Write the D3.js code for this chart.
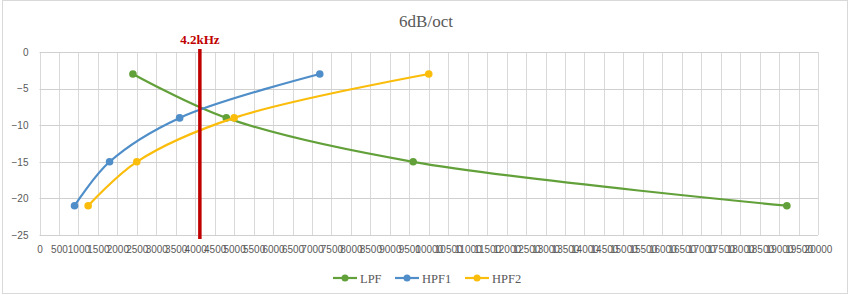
<!DOCTYPE html>
<html>
<head>
<meta charset="utf-8">
<script src="https://cdn.jsdelivr.net/npm/d3@7"></script>
<style>
  body { margin: 0; background: #fff; }
  svg { display: block; }
  .tick text { fill: #595959; font-family: "Liberation Sans", Arial, sans-serif; font-size: 10px; }
</style>
</head>
<body>
<svg width="850" height="295"></svg>
<script>
// data
const title = "6dB/oct";
const markerLabel = "4.2kHz";
const markerFreq = 4120;

const lpfFreq = [2400, 4800, 9600, 19200];
const lpfGain = [-3, -9, -15, -21];
const hpf1Freq = [900, 1800, 3600, 7200];
const hpf1Gain = [-21, -15, -9, -3];
const hpf2Freq = [1250, 2500, 5000, 10000];
const hpf2Gain = [-21, -15, -9, -3];

const seriesNames = ["LPF", "HPF1", "HPF2"];
const seriesColors = ["#62a03a", "#4f8ec8", "#fbbd0b"];

const xTicks = d3.range(0, 20001, 500);
const yTicks = [0, -5, -10, -15, -20, -25];

const series = [
  { name: seriesNames[0], color: seriesColors[0], pts: lpfFreq.map((f, i) => [f, lpfGain[i]]) },
  { name: seriesNames[1], color: seriesColors[1], pts: hpf1Freq.map((f, i) => [f, hpf1Gain[i]]) },
  { name: seriesNames[2], color: seriesColors[2], pts: hpf2Freq.map((f, i) => [f, hpf2Gain[i]]) }
];

const svg = d3.select("svg");

// outer chart border
svg.append("rect")
  .attr("x", 2.5).attr("y", 0.5)
  .attr("width", 845).attr("height", 293)
  .attr("fill", "#fff")
  .attr("stroke", "#d9d9d9");

const x = d3.scaleLinear().domain([0, 20000]).range([39.5, 818]);
const y = d3.scaleLinear().domain([-25, 0]).range([235, 52]);

// gridlines
svg.append("g")
  .selectAll("line")
  .data(xTicks)
  .enter().append("line")
    .attr("x1", d => Math.round(x(d)) + 0.5)
    .attr("x2", d => Math.round(x(d)) + 0.5)
    .attr("y1", y(0)).attr("y2", y(-25))
    .attr("stroke", "#d9d9d9");

svg.append("g")
  .selectAll("line")
  .data(yTicks)
  .enter().append("line")
    .attr("x1", x(0)).attr("x2", x(20000))
    .attr("y1", d => Math.round(y(d)) + 0.5)
    .attr("y2", d => Math.round(y(d)) + 0.5)
    .attr("stroke", "#d0d0d0");

// axes (labels only)
const xAxis = svg.append("g")
  .attr("transform", `translate(0,${y(-25)})`)
  .call(d3.axisBottom(x).tickValues(xTicks).tickFormat(d3.format("d")).tickSize(0).tickPadding(11));
xAxis.select(".domain").remove();

const yAxis = svg.append("g")
  .attr("transform", `translate(${x(0)},0)`)
  .call(d3.axisLeft(y).tickValues(yTicks).tickFormat(d3.format("d")).tickSize(0).tickPadding(11));
yAxis.select(".domain").remove();

// title
svg.append("text")
  .attr("x", 426).attr("y", 27)
  .attr("text-anchor", "middle")
  .attr("fill", "#595959")
  .style("font-family", "'Liberation Serif', 'DejaVu Serif', serif")
  .style("font-size", "17px")
  .text(title);

// series lines
const line = d3.line()
  .x(d => x(d[0]))
  .y(d => y(d[1]))
  .curve(d3.curveCatmullRom.alpha(0.5));

series.forEach(s => {
  svg.append("path")
    .datum(s.pts)
    .attr("fill", "none")
    .attr("stroke", s.color)
    .attr("stroke-width", 2.2)
    .attr("d", line);

  svg.append("g")
    .selectAll("circle")
    .data(s.pts)
    .enter().append("circle")
      .attr("cx", d => x(d[0]))
      .attr("cy", d => y(d[1]))
      .attr("r", 3.8)
      .attr("fill", s.color);
});

// 4.2kHz marker
svg.append("line")
  .attr("x1", x(markerFreq)).attr("x2", x(markerFreq))
  .attr("y1", 49).attr("y2", 239)
  .attr("stroke", "#c00000")
  .attr("stroke-width", 3.5);

svg.append("text")
  .attr("x", x(markerFreq)).attr("y", 44)
  .attr("text-anchor", "middle")
  .attr("fill", "#c00000")
  .style("font-family", "'Liberation Serif', 'DejaVu Serif', serif")
  .style("font-weight", "bold")
  .style("font-size", "13px")
  .text(markerLabel);

// legend
const legendX = [333, 395, 465];
const legend = svg.append("g")
  .selectAll("g")
  .data(series)
  .enter().append("g")
    .attr("transform", (d, i) => `translate(${legendX[i]},278)`);

legend.append("line")
  .attr("x1", 0).attr("x2", 24)
  .attr("stroke", d => d.color)
  .attr("stroke-width", 2.2);

legend.append("circle")
  .attr("cx", 12).attr("r", 3.5)
  .attr("fill", d => d.color);

legend.append("text")
  .attr("x", 27).attr("y", 4.5)
  .attr("fill", "#595959")
  .style("font-family", "'Liberation Serif', 'DejaVu Serif', serif")
  .style("font-size", "12.5px")
  .text(d => d.name);
</script>
</body>
</html>
